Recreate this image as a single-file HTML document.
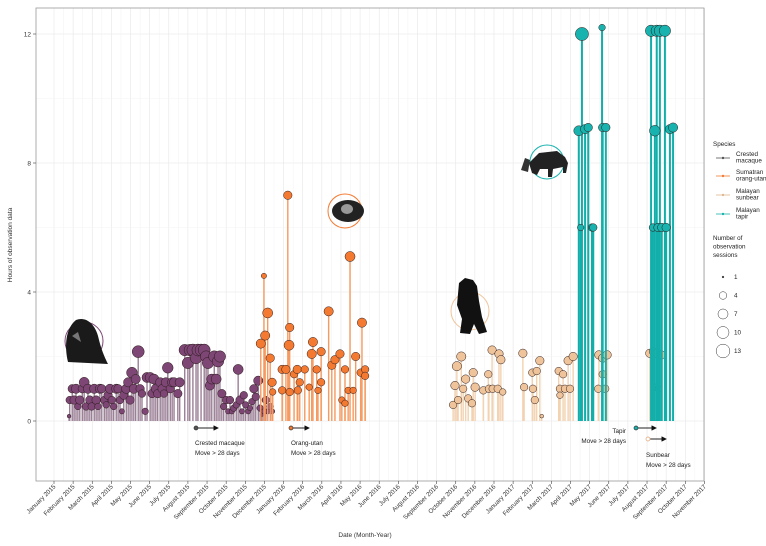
<!DOCTYPE html>
<html><head><meta charset="utf-8"><style>
html,body{margin:0;padding:0;background:#fff;}
svg{display:block;font-family:"Liberation Sans",sans-serif;}
</style></head><body>
<svg id="chart" width="766" height="546" viewBox="0 0 766 546">
<g id="grid"></g><g id="marks"></g><g id="axes"></g><g id="legend"></g><g id="annot"></g>
</svg>
<script>
// x in days since 2015-01-01
const monthLabels=["January 2015","February 2015","March 2015","April 2015","May 2015","June 2015","July 2015","August 2015","September 2015","October 2015","November 2015","December 2015","January 2016","February 2016","March 2016","April 2016","May 2016","June 2016","July 2016","August 2016","September 2016","October 2016","November 2016","December 2016","January 2017","February 2017","March 2017","April 2017","May 2017","June 2017","July 2017","August 2017","September 2017","October 2017","November 2017"];
const yTicks=[0,4,8,12];
const macaqueDays=[24,25,29,32,35,38,41,45,48,51,54,57,60,64,67,70,73,76,80,83,86,89,92,95,99,102,105,108,111,115,118,121,124,127,130,134,137,140,145,148,153,156,159,162,165,169,172,175,178,181,185,188,191,197,200,208,213,216,221,226,229,234,239,242,245,248,251,255,258,261,264,267,270,274,277,280,283,286,290,293,296,299,302,305,309,312,315,318,321,325,328,331,334,337,340,344,347];
const macaqueHours=[0.15,0.65,1.0,0.65,1.0,0.45,0.65,1.0,1.2,0.45,1.0,0.65,0.45,1.0,0.65,0.45,1.0,1.0,0.65,0.5,0.8,1.0,0.65,0.45,1.0,1.0,0.65,0.3,0.8,1.0,1.2,0.65,1.5,1.0,1.3,2.15,1.0,0.85,0.3,1.35,1.35,0.85,1.3,1.0,0.85,1.2,1.0,0.85,1.2,1.65,1.0,1.2,1.2,0.85,1.2,2.2,1.8,2.2,2.2,1.95,2.2,2.2,2.2,2.0,1.8,1.1,1.3,2.0,1.3,1.85,2.0,0.85,0.45,0.65,0.3,0.65,0.3,0.4,0.5,1.6,0.65,0.3,0.8,0.5,0.3,0.4,0.6,1.0,0.75,1.25,0.4,0.2,0.3,0.65,0.3,0.45,0.3];
const macaqueSessions=[1,4,5,5,6,3,5,5,7,4,6,5,4,6,5,3,6,5,4,3,5,6,4,3,6,5,4,2,5,6,6,5,8,6,6,10,5,4,3,7,7,5,7,6,5,6,5,4,6,8,5,6,6,5,6,9,9,9,10,9,10,10,10,9,9,6,7,9,7,9,9,5,3,4,2,4,2,3,3,7,5,2,4,3,2,2,3,5,4,6,3,1,2,4,2,3,2];
const orangDays=[329,334,336,340,344,347,348,363,363,369,372,374,375,375,382,387,388,391,399,406,410,412,418,420,425,425,437,442,447,455,458,463,463,468,471,476,480,488,490,495,495];
const orangHours=[2.4,4.5,2.65,3.35,1.95,1.2,0.9,1.6,0.95,1.6,7.0,2.35,2.9,0.9,1.45,1.6,0.95,1.2,1.6,1.05,2.08,2.45,1.6,0.95,2.15,1.2,3.4,1.73,1.9,2.08,0.65,1.6,0.55,0.95,5.1,0.95,2.0,1.5,3.05,1.6,1.4];
const orangSessions=[6,2,6,7,5,5,3,5,4,5,5,7,5,4,4,5,4,4,4,3,6,6,4,3,5,4,6,5,5,5,3,4,3,3,7,3,5,4,6,4,4];
const sunbearDays=[635,638,641,643,648,651,655,659,665,667,670,683,691,692,697,698,706,708,711,714,746,748,761,762,765,768,773,776,803,805,805,810,813,818,821,826,866,867,873,873,877,880,948,954,956,959,962,966];
const sunbearHours=[0.5,1.1,1.7,0.65,2.0,1.0,1.3,0.7,0.55,1.5,1.05,0.95,1.45,1.0,2.2,1.0,1.0,2.08,1.9,0.9,2.1,1.05,1.5,1.0,0.65,1.55,1.87,0.15,1.55,1.0,0.8,1.45,1.0,1.87,1.0,2.0,1.0,2.05,1.95,1.45,1.0,2.05,2.1,2.15,1.05,2.1,1.0,2.05];
const sunbearSessions=[4,5,6,4,6,4,5,4,4,5,5,4,4,4,5,4,4,5,5,3,5,4,4,4,4,4,5,1,4,4,3,4,4,5,4,5,4,5,5,4,4,5,5,5,3,5,3,5];
const tapirDays=[835,838,840,845,850,856,858,872,873,878,950,953,956,959,961,964,967,972,974,980,985];
const tapirHours=[9.0,6.0,12.0,9.05,9.1,6.0,6.0,12.2,9.1,9.1,12.1,6.0,9.0,12.1,6.0,12.1,6.0,12.1,6.0,9.05,9.1];
const tapirSessions=[7,3,12,6,5,4,4,3,5,5,9,4,8,9,5,9,5,9,5,6,6];
const legendSizes=[1,4,7,10,13];

const NS="http://www.w3.org/2000/svg";
const L=36,R=704,T=8,B=481;
const x0=54,pxPerMonth=19.13;
const xs=d=>x0+d/30.4375*pxPerMonth;
const xm=m=>x0+m*pxPerMonth;
const ys=h=>421-h*32.25;
const rs=s=>1.9*Math.sqrt(s);
function mk(tag,attrs,parent){const e=document.createElementNS(NS,tag);for(const k in attrs)e.setAttribute(k,attrs[k]);parent.appendChild(e);return e;}
const grid=document.getElementById('grid'),marks=document.getElementById('marks'),axes=document.getElementById('axes'),legend=document.getElementById('legend'),annot=document.getElementById('annot');

mk('rect',{x:L,y:T,width:R-L,height:B-T,fill:'#fff'},grid);
for(let i=0;i<monthLabels.length;i++){
  const gx=xm(i);
  const g=mk('line',{x1:gx,x2:gx,y1:T,y2:B,stroke:'#e6e6e6','stroke-width':0.6},grid);
  
  
  if(i>0){mk('line',{x1:xm(i-0.5),x2:xm(i-0.5),y1:T,y2:B,stroke:'#f2f2f2','stroke-width':0.5},grid);}
}
for(let v=-0;v<=12;v+=2){
  const g=mk('line',{x1:L,x2:R,y1:ys(v),y2:ys(v),stroke:v%4===0?'#e6e6e6':'#f3f3f3','stroke-width':0.6},grid);
  
  
}

function series(name,days,hours,sess,fill,stem,sw){
  const g=mk('g',{},marks);
  
  
  days.forEach((d,i)=>{
    const l=mk('line',{x1:xs(d),x2:xs(d),y1:ys(0),y2:ys(hours[i]),stroke:stem,'stroke-width':sw},g);
    
    
  });
  days.forEach((d,i)=>{
    const c=mk('circle',{cx:xs(d),cy:ys(hours[i]),r:rs(sess[i]),fill:fill,stroke:'#2a1a1a','stroke-width':0.5},g);
    
    
  });
}
series('macaque',macaqueDays,macaqueHours,macaqueSessions,'#7d4675','#9a7f95',1.4);
series('orangutan',orangDays,orangHours,orangSessions,'#f47a32','#f59a60',1.4);
series('sunbear',sunbearDays,sunbearHours,sunbearSessions,'#f0c49a','#f2d2b0',1.4);
series('tapir',tapirDays,tapirHours,tapirSessions,'#18b3ae','#12aeaa',2);

// axes
mk('rect',{x:L,y:T,width:R-L,height:B-T,fill:'none',stroke:'#999','stroke-width':0.8},axes);
yTicks.forEach(v=>{
  mk('line',{x1:L-3,x2:L,y1:ys(v),y2:ys(v),stroke:'#444','stroke-width':0.6},axes);
  const t=mk('text',{x:L-5,y:ys(v)+2.3,'font-size':6.5,'text-anchor':'end',fill:'#333'},axes);
  t.textContent=v;
  
  
});
monthLabels.forEach((lab,i)=>{
  const tx=xm(i);
  mk('line',{x1:tx,x2:tx,y1:B,y2:B+3,stroke:'#444','stroke-width':0.6},axes);
  const t=mk('text',{x:0,y:0,'font-size':6.3,'text-anchor':'end',fill:'#333',transform:`translate(${tx+2},${B+6}) rotate(-45)`},axes);
  t.textContent=lab;
  
  
});
</script>
<svg width="0" height="0"></svg>
<script>
(function(){
const svg=document.getElementById('chart');
const NS="http://www.w3.org/2000/svg";
function mk(tag,attrs,parent,txt){const e=document.createElementNS(NS,tag);for(const k in attrs)e.setAttribute(k,attrs[k]);if(txt!==undefined)e.textContent=txt;parent.appendChild(e);return e;}
const a=document.getElementById('annot'),lg=document.getElementById('legend');
const yt=mk('text',{x:0,y:0,'font-size':6.5,'text-anchor':'middle',fill:'#333',transform:'translate(12,245) rotate(-90)'},a,'Hours of observation data');


const xt=mk('text',{x:365,y:537,'font-size':6.5,'text-anchor':'middle',fill:'#333'},a,'Date (Month-Year)');


mk('defs',{},a).innerHTML='<marker id="ah" markerWidth="6" markerHeight="6" refX="5" refY="3" orient="auto"><path d="M0,0 L6,3 L0,6 z" fill="#111"/></marker>';
function arrow(name,x,y,len,fill,open){
  const g=mk('g',{},a);
  
  
  mk('line',{x1:x,x2:x+len,y1:y,y2:y,stroke:'#222','stroke-width':0.9,'marker-end':'url(#ah)'},g);
  mk('circle',{cx:x,cy:y,r:2,fill:open?'#fff':fill,stroke:open?fill:'#333','stroke-width':0.7},g);
}
arrow('macaque',196,428,22,'#555');
arrow('orangutan',291,428,18,'#f47a32');
arrow('tapir',636,428,20,'#18b3ae');
arrow('sunbear',648,439,18,'#e0a070',true);
function label(x,y,lines,anchor,name){const t=mk('text',{x:x,y:y,'font-size':6.3,fill:'#222','text-anchor':anchor||'start'},a);lines.forEach((l,i)=>mk('tspan',{x:x,dy:i?10:0},t,l));}
label(195,445,['Crested macaque','Move > 28 days'],'start','macaque-move-label');
label(291,445,['Orang-utan','Move > 28 days'],'start','orangutan-move-label');
label(626,433,['Tapir','Move > 28 days'],'end','tapir-move-label');
label(646,457,['Sunbear','Move > 28 days'],'start','sunbear-move-label');
// animal icons
function icon(name,cx,cy,r,col,body){const g=mk('g',{},a);mk('circle',{cx:cx,cy:cy,r:r,fill:'none',stroke:col,'stroke-width':1},g);g.insertAdjacentHTML('beforeend',body);}
icon('macaque',84,341,19,'#7d4675','<path d="M68,362 C64,345 66,328 76,320 C86,316 96,324 99,340 C102,352 106,360 108,364 Z" fill="#1a1a1a"/><path d="M72,336 l6,-4 l3,10 z" fill="#777"/>');
icon('orangutan',345,211,17,'#f47a32','<ellipse cx="348" cy="211" rx="16" ry="11" fill="#222"/><ellipse cx="347" cy="209" rx="6" ry="5" fill="#999"/>');
icon('sunbear',470,311,19,'#f0c49a','<path d="M459,283 l6,-5 l8,2 l4,6 l2,15 l3,16 l5,15 l-8,2 l-5,-10 l-4,10 l-10,-1 l2,-14 l-5,-14 z" fill="#111"/>');
icon('tapir',547,162,17,'#18b3ae','<path d="M529,163 l10,-10 l18,-2 l8,6 l3,6 l-2,10 l-3,0 l0,-6 l-10,2 l-1,8 l-4,0 l0,-8 l-8,0 l-3,6 l-5,-2 z" fill="#222"/><path d="M521,170 l4,-12 l5,2 l-2,12 z" fill="#333"/>');
// legend
const lt=mk('text',{x:713,y:146,'font-size':6.3,fill:'#222'},lg,'Species');


const sp=[['Crested','macaque','#555',154],['Sumatran','orang-utan','#f47a32',172],['Malayan','sunbear','#e0b890',191],['Malayan','tapir','#18b3ae',210]];
sp.forEach(s=>{
  const g=mk('g',{},lg);
  
  
  mk('line',{x1:716,x2:730,y1:s[3]+4,y2:s[3]+4,stroke:s[2],'stroke-width':0.8},g);
  mk('circle',{cx:723,cy:s[3]+4,r:1.2,fill:s[2]},g);
  const t=mk('text',{x:736,y:s[3]+2,'font-size':6.3,fill:'#222'},g);
  mk('tspan',{x:736,dy:0},t,s[0]);mk('tspan',{x:736,dy:6.5},t,s[1]);
});
const nt=mk('text',{x:713,y:240,'font-size':6.3,fill:'#222'},lg);
['Number of','observation','sessions'].forEach((l,i)=>mk('tspan',{x:713,dy:i?8.5:0},nt,l));


legendSizes.forEach((s,i)=>{
  const cy=277+i*18.5;
  const g=mk('g',{},lg);
  
  
  mk('circle',{cx:723,cy:cy,r:s===1?0.9:1.9*Math.sqrt(s),fill:s===1?'#333':'#fff',stroke:'#333','stroke-width':0.5},g);
  mk('text',{x:734,y:cy+2.2,'font-size':6.3,fill:'#222'},g,String(s));
});
})();
</script>
</body></html>
